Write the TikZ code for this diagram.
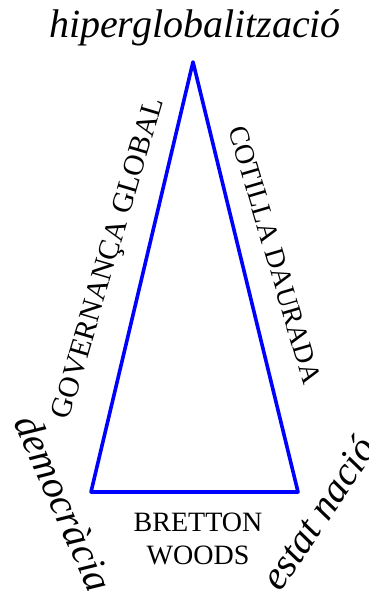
\documentclass[tikz,border=0pt]{standalone}
\usepackage{fontspec}
\setmainfont{Liberation Serif}
\usetikzlibrary{positioning}

\begin{document}
\begin{tikzpicture}[
    x=1pt, y=-1pt,
    triside/.style={draw=blue, line width=3.6pt, line join=round},
    vertexlabel/.style={font=\fontsize{40}{48}\selectfont\itshape, inner sep=0pt},
    sidelabel/.style={font=\fontsize{28}{33}\selectfont, inner sep=0pt}
]
\useasboundingbox (0,0) rectangle (368,591);
\coordinate (apex) at (193,62);
\coordinate (west) at (91,492);
\coordinate (east) at (298,492);
\draw[triside] (apex) -- (west) -- (east) -- cycle;

\node[vertexlabel, anchor=base] (hiper) at (195,38) {hiperglobalització};
\node[vertexlabel, rotate=-66] (demo) at (64,503) {democràcia};
\node[vertexlabel, rotate=56] (estat) at (318,513) {estat nació};
\node[sidelabel, rotate=73.5, font=\fontsize{29.5}{33}\selectfont] (gov) at (110,259) {GOVERNANÇA GLOBAL};
\node[sidelabel, rotate=-73.6] (cot) at (275,255) {COTILLA DAURADA};
\node[sidelabel, align=center, anchor=north] (bw) at (198,513) {BRETTON\\WOODS};
\end{tikzpicture}
\end{document}
